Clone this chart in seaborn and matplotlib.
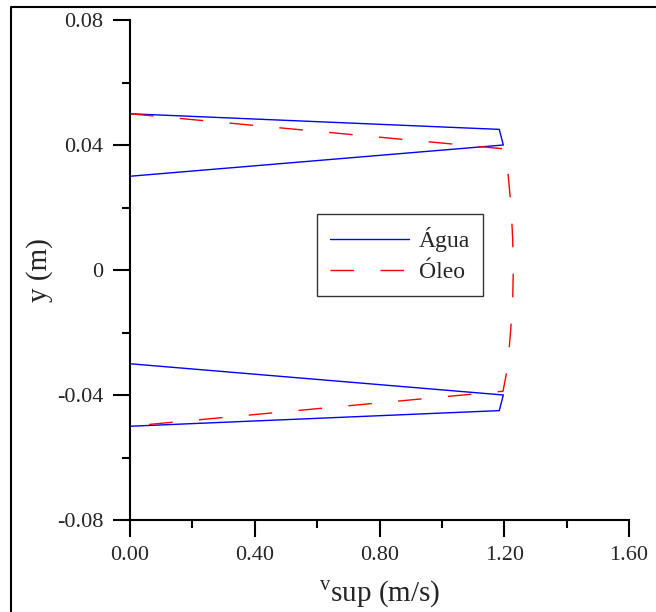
import matplotlib
matplotlib.use("Agg")
import matplotlib.pyplot as plt
from matplotlib.lines import Line2D
import pandas as pd
import seaborn as sns

# perfis de velocidade superficial
agua_v = [0.0, 1.184, 1.197, 0.0, 0.0, 1.197, 1.184, 0.0]
agua_y = [0.050, 0.045, 0.040, 0.030, -0.030, -0.040, -0.045, -0.050]

oleo_v = [0.0, 1.195, 1.212, 1.222, 1.227, 1.229, 1.227, 1.220, 1.211, 1.196, 0.0]
oleo_y = [0.050, 0.0388, 0.031, 0.020, 0.010, 0.0, -0.010, -0.020, -0.031, -0.0388, -0.050]

x_ticks = [0.0, 0.4, 0.8, 1.2, 1.6]
x_labels = ["0.00", "0.40", "0.80", "1.20", "1.60"]
y_ticks = [-0.08, -0.04, 0.0, 0.04, 0.08]
y_labels = ["-0.08", "-0.04", "0", "0.04", "0.08"]

df_agua = pd.DataFrame({"v": agua_v, "y": agua_y})
df_oleo = pd.DataFrame({"v": oleo_v, "y": oleo_y})

sns.set_style("ticks")
plt.rcParams["font.family"] = ["Liberation Serif", "DejaVu Serif"]
plt.rcParams["mathtext.fontset"] = "custom"
plt.rcParams["mathtext.rm"] = "Liberation Serif"

fig = plt.figure(figsize=(6.56, 6.12), dpi=100)
ax = fig.add_axes([130 / 656, 1 - 520 / 612, 499 / 656, 500 / 612])

sns.lineplot(data=df_agua, x="v", y="y", sort=False, estimator=None,
             color="#0000ff", lw=1.0, label="Água", ax=ax)
sns.lineplot(data=df_oleo, x="v", y="y", sort=False, estimator=None,
             color="#ff0000", lw=1.0, dashes=False, label="Óleo", ax=ax)
ax.lines[1].set_dashes((17, 19))

ax.set_xlim(0, 1.6)
ax.set_ylim(-0.08, 0.08)
ax.set_xticks(x_ticks)
ax.set_xticklabels(x_labels)
ax.set_yticks(y_ticks)
ax.set_yticklabels(y_labels)
ax.set_xticks([0.2, 0.6, 1.0, 1.4], minor=True)
ax.set_yticks([-0.06, -0.02, 0.02, 0.06], minor=True)
ax.tick_params(which="major", length=12, width=1.5, labelsize=16, pad=7, color="black")
ax.tick_params(which="minor", length=6, width=1.5, color="black")
sns.despine(ax=ax)
for s in ["left", "bottom"]:
    ax.spines[s].set_linewidth(1.5)
    ax.spines[s].set_color("black")

ax.set_xlabel(r"$^{\mathrm{v}}$sup (m/s)", fontsize=21, labelpad=10)
ax.set_ylabel("y (m)", fontsize=21, labelpad=3)

leg = ax.legend(loc="center", bbox_to_anchor=(0.541, 0.53), fontsize=17,
                frameon=True, fancybox=False, edgecolor="black",
                handlelength=3.35, handletextpad=0.4, borderpad=0.55,
                labelspacing=0.42, borderaxespad=0)
leg.get_frame().set_linewidth(1.0)
for h in leg.get_lines():
    h.set_linewidth(1.0)
leg.get_lines()[1].set_dashes((17, 19))

# moldura da figura (só esquerda e topo)
fig.add_artist(Line2D([11 / 656, 11 / 656, 1], [0, 1 - 7 / 612, 1 - 7 / 612],
                      transform=fig.transFigure, color="black", lw=1.5))

fig.savefig("out.png", dpi=100)
